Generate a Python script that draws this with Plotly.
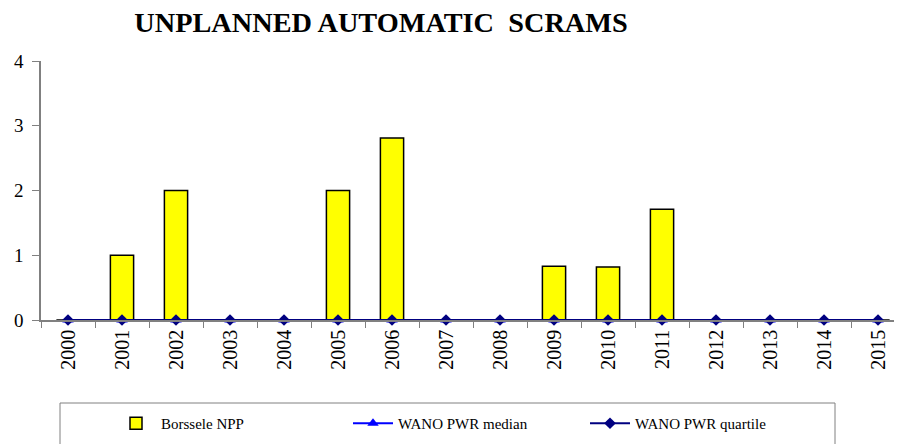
import plotly.graph_objects as go

years = [str(y) for y in range(2000, 2016)]
borssele = [0, 1, 2, 0, 0, 2, 2.81, 0, 0, 0.83, 0.82, 1.71, 0, 0, 0, 0]
wano_median = [0] * 16
wano_quartile = [0] * 16

serif = "Liberation Serif, Times New Roman, serif"
axis_grey = "#808080"

# the page body has an 8px margin, so the figure is 8px smaller than the window
W, H = 894, 436

fig = go.Figure()

fig.add_trace(go.Bar(
    x=years, y=borssele, name="Borssele NPP",
    marker=dict(color="#FFFF00", line=dict(color="black", width=1.5)),
))

fig.add_trace(go.Scatter(
    x=years, y=wano_median, name="WANO PWR median",
    mode="lines+markers",
    line=dict(color="#0000FF", width=2),
    marker=dict(symbol="triangle-up", size=10, color="#0000FF"),
    cliponaxis=False,
))

fig.add_trace(go.Scatter(
    x=years, y=wano_quartile, name="WANO PWR quartile",
    mode="lines+markers",
    line=dict(color="#000080", width=2),
    marker=dict(symbol="diamond", size=9, color="#000080"),
    cliponaxis=False,
))

# legend frame (runs off the bottom of the picture, as in the original)
fig.add_shape(
    type="rect", xref="paper", yref="paper",
    x0=(60 - 41) / 861, x1=(835 - 41) / 861, y0=-0.55, y1=(320 - 403) / 259,
    line=dict(color=axis_grey, width=1), fillcolor="white", layer="below",
)

fig.update_layout(
    width=W, height=H,
    margin=dict(l=33, r=0, t=53, b=124, autoexpand=False),
    plot_bgcolor="rgba(0,0,0,0)", paper_bgcolor="white",
    font=dict(family=serif, color="black"),
    title=dict(
        text="<b>UNPLANNED AUTOMATIC\u00a0 SCRAMS</b>",
        font=dict(family=serif, size=28.3, color="black"),
        x=373 / W, xanchor="center", y=1 - 14 / H, yanchor="middle",
    ),
    bargap=0.57,
    showlegend=True,
    legend=dict(
        orientation="h", x=(111 - 41) / 861, xanchor="left",
        y=(320 - 407) / 259, yanchor="top",
        borderwidth=0, bgcolor="rgba(0,0,0,0)",
        font=dict(family=serif, size=15, color="black"),
        entrywidth=182, itemwidth=40,
    ),
    # companion axes that give the crossing tick marks
    xaxis2=dict(
        overlaying="x", anchor="y", range=[-0.5, 15.444],
        tickvals=[i + 0.5 for i in range(15)], ticks="inside", ticklen=6,
        tickcolor=axis_grey, showticklabels=False, showline=False,
        showgrid=False, zeroline=False,
    ),
    yaxis2=dict(
        overlaying="y", anchor="x", range=[0, 4], dtick=1,
        ticks="inside", ticklen=7, tickcolor=axis_grey,
        showticklabels=False, showline=False, showgrid=False, zeroline=False,
    ),
)

fig.layout.xaxis.update(
    type="category", range=[-0.5, 15.444],
    showline=True, linecolor=axis_grey, linewidth=1.5,
    ticks="outside", tickson="boundaries", ticklen=6, tickcolor=axis_grey,
    tickangle=-90, tickfont=dict(family=serif, size=20, color="black"),
    showgrid=False, zeroline=False,
)
fig.layout.yaxis.update(
    range=[0, 4], dtick=1,
    showline=True, linecolor=axis_grey, linewidth=1.5,
    ticks="outside", ticklen=7, tickcolor=axis_grey,
    ticklabelstandoff=5,
    tickfont=dict(family=serif, size=19, color="black"),
    showgrid=False, zeroline=False,
)

fig.write_html("out.html")
